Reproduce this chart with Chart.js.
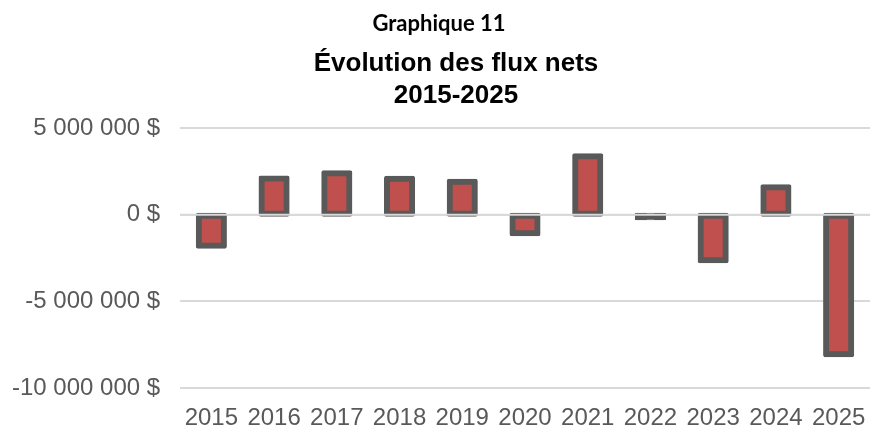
<!DOCTYPE html>
<html>
<head>
<meta charset="utf-8">
<script src="https://cdn.jsdelivr.net/npm/chart.js@4/dist/chart.umd.min.js"></script>
<style>
  body { margin: 0; background: #fff; }
  #wrap { position: relative; width: 870px; height: 427px; }
  #surtitre {
    position: absolute; top: 9px; left: 372px; width: 134px;
    text-align: center; font: bold 22px Lato, sans-serif; color: #000;
    white-space: nowrap;
  }
</style>
</head>
<body>
<div id="wrap">
  <canvas id="fluxChart"></canvas>
  <div id="surtitre">Graphique 11</div>
</div>
<script>
const annees = ["2015", "2016", "2017", "2018", "2019", "2020", "2021", "2022", "2023", "2024", "2025"];
const fluxNets = [-1800000, 2080000, 2390000, 2070000, 1900000, -1080000, 3370000, -150000, -2630000, 1580000, -8060000];
const titreGraphique = ["Évolution des flux nets", "2015-2025"];

function formatDollars(v) {
  const s = Math.abs(v).toString().replace(/\B(?=(\d{3})+(?!\d))/g, " ");
  return (v < 0 ? "-" : "") + s + " $";
}

// ligne du zéro redessinée par-dessus les barres, comme dans Excel
const ligneZero = {
  id: "ligneZero",
  afterDatasetsDraw(chart) {
    const y = chart.scales.y.getPixelForValue(0);
    const c = chart.ctx;
    c.save();
    c.strokeStyle = "#D9D9D9";
    c.lineWidth = 2;
    c.beginPath();
    c.moveTo(chart.chartArea.left, y);
    c.lineTo(chart.chartArea.right, y);
    c.stroke();
    c.restore();
  },
};

// barre plus fine que la bordure : la bordure recouvre tout le remplissage
function couleurBarre(c) {
  const y = c.chart.scales.y;
  if (!y || c.raw === undefined) return "#C0504D";
  const h = Math.abs(y.getPixelForValue(c.raw) - y.getPixelForValue(0));
  return h < 6 ? "#595959" : "#C0504D";
}

const ctx = document.querySelector("#fluxChart");
const graph = new Chart(ctx, {
  type: "bar",
  data: {
    labels: annees,
    datasets: [
      {
        data: fluxNets,
        backgroundColor: couleurBarre,
        borderColor: "#595959",
        borderWidth: 6,
        borderSkipped: false,
        borderRadius: 2,
        // bordure centrée sur le contour (style Excel)
        inflateAmount: 3,
        categoryPercentage: 1,
        barPercentage: 0.4,
      },
    ],
  },
  plugins: [ligneZero],
  options: {
    responsive: true,
    maintainAspectRatio: false,
    animation: false,
    layout: { padding: { left: 42, right: 0, bottom: 0, top: 0 } },
    plugins: {
      legend: { display: false },
      tooltip: { enabled: false },
      title: {
        display: true,
        text: titreGraphique,
        color: "#000",
        font: { family: "Liberation Sans", size: 26, weight: "bold", lineHeight: 1.23 },
        padding: { top: 48, bottom: 16 },
      },
    },
    scales: {
      x: {
        grid: { display: false, drawTicks: false },
        border: { display: false },
        ticks: {
          color: "#595959",
          font: { family: "Liberation Sans", size: 24, lineHeight: 1 },
          padding: 18,
          maxRotation: 0,
          autoSkip: false,
        },
        afterFit: (scale) => {
          scale.height = 39;
          scale.paddingLeft = 0;
          scale.paddingRight = 0;
        },
      },
      y: {
        min: -10000000,
        max: 5000000,
        ticks: {
          stepSize: 5000000,
          color: "#595959",
          font: { family: "Liberation Sans", size: 24 },
          // étiquettes en mode miroir pour qu'elles débordent à gauche sans être coupées
          mirror: true,
          crossAlign: "far",
          padding: -168,
          callback: (v) => formatDollars(v),
        },
        grid: { color: "#D9D9D9", lineWidth: 2, drawTicks: false },
        border: { display: false },
        afterFit: (scale) => {
          scale.width = 138;
        },
      },
    },
  },
});
</script>
</body>
</html>
